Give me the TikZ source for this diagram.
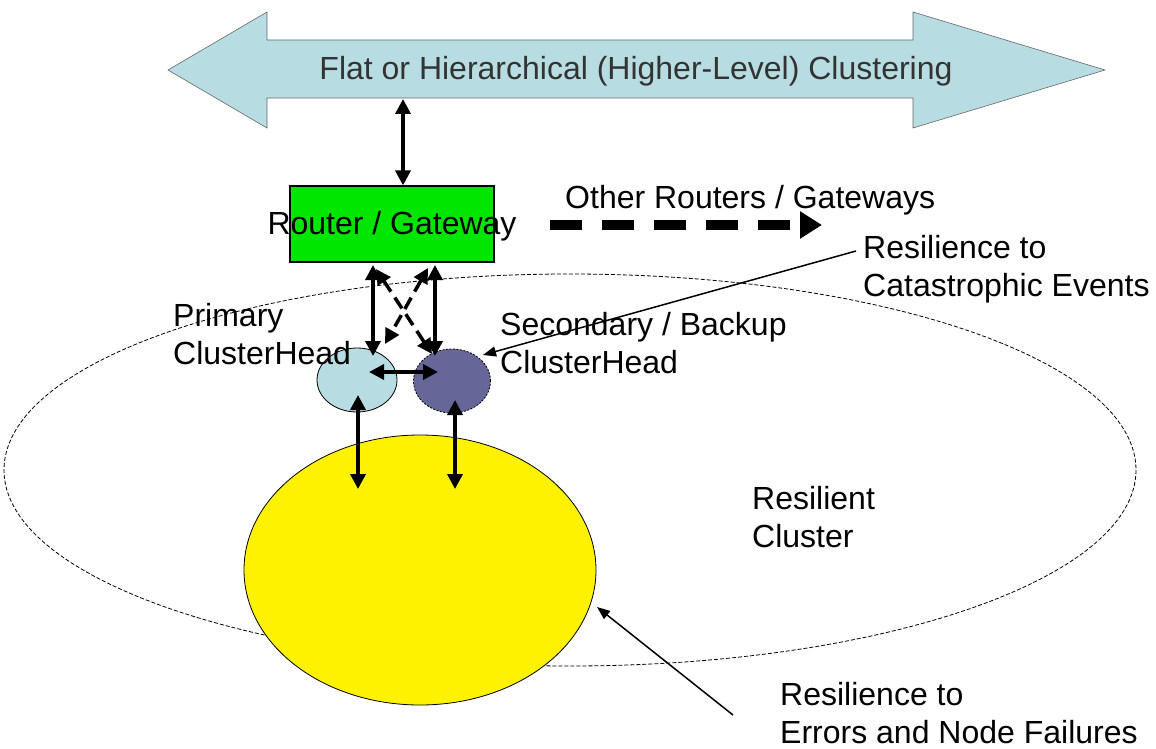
\documentclass[tikz,border=0pt]{standalone}
\usepackage{fontspec}
\setmainfont{Liberation Sans}
\usetikzlibrary{arrows.meta,shapes.geometric}
\definecolor{paleblue}{RGB}{183,221,226}
\definecolor{headpurple}{RGB}{102,102,153}
\definecolor{routergreen}{RGB}{0,230,0}
\begin{document}
\begin{tikzpicture}[x=1pt,y=-1pt,
  lbl/.style={font=\fontsize{32}{38}\selectfont, align=left, inner sep=0pt},
  link/.style={line width=3.5pt, {Triangle[length=15pt,width=15pt]}-{Triangle[length=15pt,width=15pt]}},
  dlink/.style={link, dash pattern=on 13pt off 7pt},
  pointer/.style={line width=1.5pt, -{Triangle[length=13pt,width=10pt]}}]
\useasboundingbox (0,0) rectangle (1156,749);

% higher-level clustering band
\filldraw[fill=paleblue, draw=black!60, line width=0.6pt]
  (168,70) -- (267,12) -- (267,40) -- (913,40) -- (913,12) -- (1105,70)
  -- (913,128) -- (913,98) -- (267,98) -- (267,128) -- cycle;
\node[font=\fontsize{32}{36}\selectfont, inner sep=0pt, color=black!80] (band) at (636,71)
  {Flat or Hierarchical (Higher-Level) Clustering};
\coordinate (bandlow) at (403,99);

% resilient cluster boundary
\draw[line width=0.8pt, dash pattern=on 4pt off 2pt] (570,470) ellipse [x radius=566, y radius=196];
\node[lbl] (rescl) at (752,517) [anchor=west] {Resilient\\Cluster};

% router
\node[draw=black, line width=1.2pt, fill=routergreen, minimum width=204pt, minimum height=76pt, inner sep=0pt]
  (router) at (392,224) {};
\node[lbl] (rtext) at (392,226) {Router / Gateway};
\draw[link] (bandlow) -- (router.north -| bandlow);

% other routers
\coordinate (or1) at (550,225);
\coordinate (or2) at (822,225);
\draw[line width=10pt, dash pattern=on 32pt off 20pt, -{Triangle[length=22pt,width=26pt]}] (or1) -- (or2);
\node[lbl, anchor=west] (other) at (565,200) {Other Routers / Gateways};

% cluster heads
\node[ellipse, draw=black, line width=0.8pt, fill=paleblue, minimum width=80pt, minimum height=64pt] (prim) at (357,380) {};
\node[ellipse, draw=black, line width=0.8pt, dash pattern=on 2pt off 1.5pt, fill=headpurple, minimum width=77pt, minimum height=64pt] (sec) at (452,381) {};
\node[lbl, anchor=west] (primtext) at (173,334) {Primary\\ClusterHead};
\node[lbl, anchor=west] (sectext) at (500,343) {Secondary / Backup\\ClusterHead};

% links between router and heads
\draw[link] (373,265) -- (373,356);
\draw[link] (435,265) -- (435,356);
\draw[dlink] (376,269) -- (432,354);
\draw[dlink] (428,268) -- (385,344);
\draw[link] (369,372) -- (438,372);

% member area
\node[ellipse, draw=black, line width=0.8pt, fill=yellow, minimum width=352pt, minimum height=270pt] (members) at (420,570) {};
\draw[link] (358,395) -- (358,489);
\draw[link] (455,400) -- (455,489);

% resilience annotations
\node[lbl, anchor=west] (cat) at (863,269) {Resilience to\\Catastrophic Events};
\draw[pointer] (856,251) -- (483,355);
\node[lbl, anchor=west] (err) at (780,713) {Resilience to\\Errors and Node Failures};
\draw[pointer] (733,715) -- (597,607);
\end{tikzpicture}
\end{document}
